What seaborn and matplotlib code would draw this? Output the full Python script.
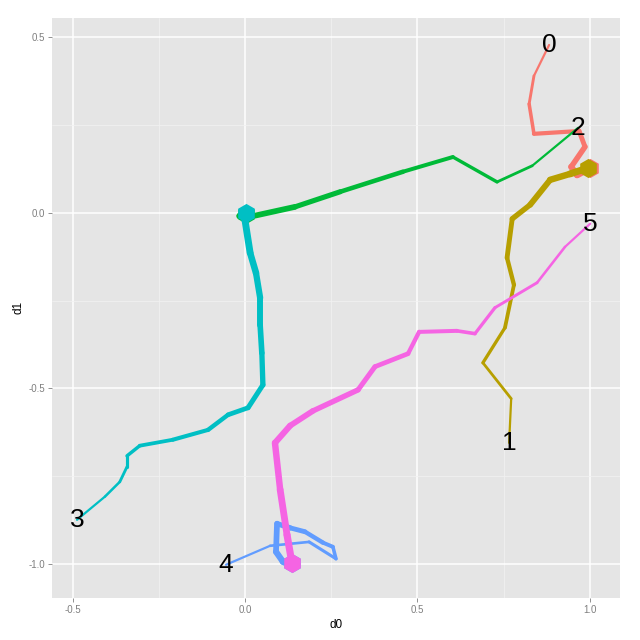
import matplotlib
matplotlib.use('Agg')
import matplotlib.pyplot as plt
import seaborn as sns
import numpy as np
import pandas as pd

# trajectories, start (label) -> end (cluster)
path_0_x = [0.882, 0.838, 0.824, 0.838, 0.969, 0.986, 0.946, 0.963, 1.001]
path_0_y = [0.478, 0.390, 0.310, 0.225, 0.233, 0.188, 0.131, 0.108, 0.128]
path_1_x = [0.766, 0.772, 0.690, 0.754, 0.780, 0.760, 0.775, 0.827, 0.885, 0.943, 0.995]
path_1_y = [-0.655, -0.529, -0.427, -0.327, -0.205, -0.128, -0.017, 0.023, 0.094, 0.111, 0.128]
path_2_x = [0.966, 0.833, 0.731, 0.603, 0.458, 0.276, 0.145, 0.015, -0.015, 0.003]
path_2_y = [0.242, 0.134, 0.088, 0.159, 0.117, 0.060, 0.017, -0.011, -0.009, -0.002]
path_3_x = [-0.487, -0.406, -0.363, -0.342, -0.342, -0.305, -0.209, -0.107, -0.049, 0.009,
            0.052, 0.049, 0.044, 0.044, 0.032, 0.015, 0.000, 0.003]
path_3_y = [-0.874, -0.808, -0.766, -0.723, -0.692, -0.663, -0.646, -0.618, -0.575, -0.555,
            -0.490, -0.399, -0.319, -0.242, -0.171, -0.114, -0.020, 0.000]
path_4_x = [-0.055, 0.073, 0.186, 0.264, 0.255, 0.226, 0.174, 0.131, 0.093, 0.090, 0.110, 0.131, 0.136]
path_4_y = [-1.002, -0.948, -0.937, -0.985, -0.951, -0.939, -0.908, -0.897, -0.885, -0.965, -0.993, -1.002, -0.996]
path_5_x = [1.001, 0.928, 0.847, 0.725, 0.667, 0.615, 0.505, 0.473, 0.377, 0.328, 0.197,
            0.131, 0.087, 0.102, 0.122, 0.136]
path_5_y = [-0.031, -0.097, -0.199, -0.270, -0.344, -0.336, -0.339, -0.401, -0.438, -0.504, -0.564,
            -0.606, -0.655, -0.788, -0.917, -0.996]

labels = ['0', '1', '2', '3', '4', '5']
colors = ['#F8766D', '#B79F00', '#00BA38', '#00BFC4', '#619CFF', '#F564E3']

paths = [(path_0_x, path_0_y), (path_1_x, path_1_y), (path_2_x, path_2_y),
         (path_3_x, path_3_y), (path_4_x, path_4_y), (path_5_x, path_5_y)]

rows = []
for lab, (xs, ys) in zip(labels, paths):
    n = len(xs)
    for i, (x, y) in enumerate(zip(xs, ys)):
        rows.append({'path': lab, 'step': i / (n - 1), 'd0': x, 'd1': y})
df = pd.DataFrame(rows)

sns.set_theme(style='darkgrid', rc={'axes.facecolor': '#E5E5E5', 'grid.color': 'white'})
plt.rcParams['font.family'] = ['Liberation Sans', 'DejaVu Sans']

fig = plt.figure(figsize=(6.4, 6.4), dpi=100)
ax = fig.add_axes([0.081, 0.066, 0.888, 0.906])

# draw lines segment by segment, width growing along the path
for k, (lab, col) in enumerate(zip(labels, colors)):
    sub = df[df['path'] == lab].reset_index(drop=True)
    for i in range(len(sub) - 1):
        w = 1.6 + 3.8 * sub.loc[i, 'step']
        ax.plot(sub.loc[i:i + 1, 'd0'], sub.loc[i:i + 1, 'd1'], color=col, lw=w,
                solid_capstyle='round', solid_joinstyle='round', zorder=2 + k * 0.1)
    end = sub.iloc[-1]
    ax.scatter([end['d0']], [end['d1']], s=190, marker='h', color=col,
               zorder=2.05 + k * 0.1, linewidths=0)

for lab, (xs, ys) in zip(labels, paths):
    ax.text(xs[0], ys[0], lab, fontsize=19, ha='center', va='center', color='black', zorder=5)

ax.set_xlim(-0.560, 1.088)
ax.set_ylim(-1.096, 0.555)
ax.set_xticks([-0.5, 0.0, 0.5, 1.0])
ax.set_xticklabels(['-0.5', '0.0', '0.5', '1.0'])
ax.set_yticks([-1.0, -0.5, 0.0, 0.5])
ax.set_yticklabels(['-1.0', '-0.5', '0.0', '0.5'])
ax.set_xticks([-0.25, 0.25, 0.75], minor=True)
ax.set_yticks([-0.75, -0.25, 0.25], minor=True)
ax.grid(which='major', color='white', lw=1.1)
ax.grid(which='minor', color='#F2F2F2', lw=0.5)
ax.tick_params(axis='both', which='major', labelsize=7, colors='#7F7F7F', length=3,
               width=0.6, pad=2, left=True, bottom=True)
ax.tick_params(axis='both', which='minor', length=0)
for s in ax.spines.values():
    s.set_visible(False)
ax.set_xlabel('d0', fontsize=8.5, color='black', labelpad=3)
ax.set_ylabel('d1', fontsize=8.5, color='black', labelpad=3)

fig.savefig('out.png', dpi=100, facecolor='white')
